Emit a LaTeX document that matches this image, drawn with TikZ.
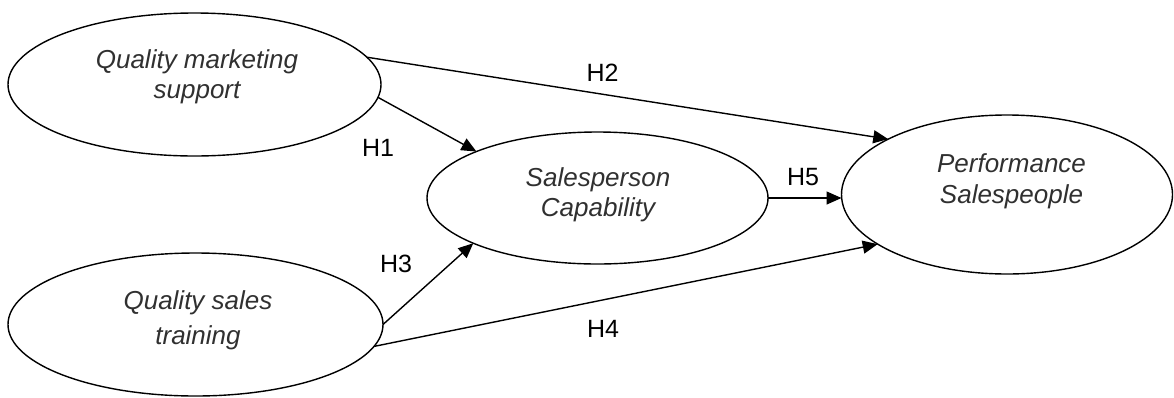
\documentclass[tikz,border=0pt]{standalone}
\usepackage{fontspec}
\setmainfont{Liberation Sans}
\usetikzlibrary{arrows.meta,shapes.geometric,calc}
\definecolor{txtgray}{RGB}{48,48,48}
\begin{document}
\begin{tikzpicture}[x=1pt,y=-1pt,
  ell/.style={ellipse,draw=black,line width=1.4pt,inner sep=0pt,outer sep=0pt},
  etext/.style={align=center,text=txtgray,font=\fontsize{26}{30}\selectfont\itshape,inner sep=0pt},
  hlabel/.style={text=black,font=\fontsize{25}{30}\selectfont,inner sep=0pt},
  conn/.style={draw=black,line width=1.4pt,-{Triangle[length=15pt,width=13pt]}},
  plain/.style={draw=black,line width=1.4pt}]
\useasboundingbox (0,0) rectangle (1174,397);
% ellipses
\node[ell,minimum width=373pt,minimum height=143pt] (qms) at (194.5,84.5) {};
\node[ell,minimum width=375pt,minimum height=143pt] (qst) at (195.5,324.5) {};
\node[ell,minimum width=341pt,minimum height=132pt] (spc) at (597.5,198) {};
\node[ell,minimum width=331pt,minimum height=159pt] (per) at (1007,194.5) {};
% texts
\node[etext] (qmsT) at (197,77.25) {Quality marketing\\support};
\node[etext,font=\fontsize{26}{35}\selectfont\itshape] (qstT) at (198,320.75) {Quality sales\\training};
\node[etext] (spcT) at (598,195.25) {Salesperson\\Capability};
\node[etext,font=\fontsize{26}{31}\selectfont\itshape] (perT) at (1011.5,181.75) {Performance\\Salespeople};
% connectors
\draw[conn] (qms.9) -- (per.155.8);
\draw[conn] (qms.-4) -- (spc.159.3);
\draw[conn] (qst.0) -- (spc.200.3);
\draw[conn] (qst.-7) -- (per.201.9);
\draw[conn] (spc.east) -- (spc.east -| per.west);
% labels
\node[hlabel] (h1) at (378,147.5) {H1};
\node[hlabel] (h2) at (602.5,72.5) {H2};
\node[hlabel] (h3) at (396,264) {H3};
\node[hlabel] (h4) at (603,329) {H4};
\node[hlabel] (h5) at (803,177.5) {H5};
\end{tikzpicture}
\end{document}
